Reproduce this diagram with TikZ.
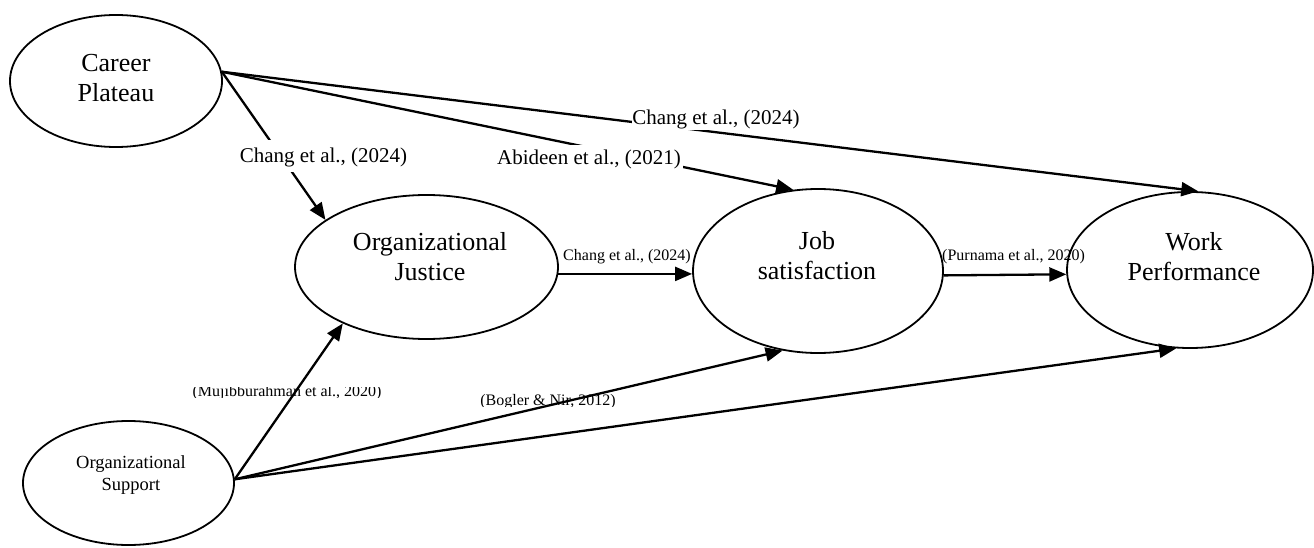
\documentclass[tikz,border=0pt]{standalone}
\usepackage{fontspec}
\setmainfont{Liberation Serif}
\usetikzlibrary{shapes.geometric,arrows.meta}
\begin{document}
\begin{tikzpicture}[x=1pt,y=-1pt,
  ell/.style={draw,ellipse,line width=1.8pt,inner sep=0pt},
  big/.style={font=\fontsize{26}{30}\selectfont,align=center,inner sep=0pt},
  mid/.style={font=\fontsize{18.5}{22}\selectfont,align=center,inner sep=0pt},
  arr/.style={line width=2.3pt,-{Triangle[length=17pt,width=14pt]}},
  tag/.style={font=\fontsize{21}{24}\selectfont,fill=white,anchor=base,inner sep=0pt},
  small/.style={font=\fontsize{16}{19}\selectfont,anchor=base,inner sep=0pt}]
\useasboundingbox (0,0) rectangle (1314,548);
% ellipses
\node[ell,minimum width=212pt,minimum height=132pt] (cp) at (116,81) {};
\node[ell,minimum width=263pt,minimum height=144pt] (oj) at (426.5,267) {};
\node[ell,minimum width=250pt,minimum height=164pt] (js) at (818,271) {};
\node[ell,minimum width=246pt,minimum height=156pt] (wp) at (1190,270) {};
\node[ell,minimum width=211pt,minimum height=124pt] (os) at (128.5,483) {};
% ellipse texts
\node[big] (cpt) at (116,81) {\strut Career\\\strut Plateau};
\node[big] (ojt) at (430,259) {\strut Organizational\\\strut Justice};
\node[big] (jst) at (817,258) {\strut Job\\\strut satisfaction};
\node[big] (wpt) at (1194,259) {\strut Work\\\strut Performance};
\node[mid] (ost) at (131,474.6) {\strut Organizational\\\strut Support};
% bottom labels (clipped, under the lines)
\begin{scope}
\clip (150,387.2) rectangle (430,397);
\node[small] (lmu) at (287,396) {(Mujibburahman et al., 2020)};
\end{scope}
\begin{scope}
\clip (450,380) rectangle (660,406);
\node[small] (lbo) at (548,405) {(Bogler \& Nir, 2012)};
\end{scope}
% connectors
\coordinate (cpo) at (cp.5);
\coordinate (oso) at (os.2);
\draw[arr] (cpo) -- (oj.155);
\draw[arr] (cpo) -- (js.107.6);
\draw[arr] (cpo) -- (wp.84.3);
\draw[arr] (oj.-3.5) -- (oj.-3.5 -| js.west);
\draw[arr] (js.-2.75) -- (wp.182);
\draw[arr] (oso) -- (oj.214.9);
\draw[arr] (oso) -- (js.246.1);
\draw[arr] (oso) -- (wp.260.9);
% top labels (white boxes over the lines)
\node[tag,text height=23pt,text depth=9pt] (lc1) at (323.5,163) {Chang et al., (2024)};
\node[tag,text height=20pt,text depth=5pt,inner xsep=2pt] (lab) at (589,165) {Abideen et al., (2021)};
\node[tag,text height=14pt,text depth=5pt] (lc2) at (716,125) {Chang et al., (2024)};
% small labels
\node[small] (lc3) at (627,260) {Chang et al., (2024)};
\node[small] (lpu) at (1013.5,260) {(Purnama et al., 2020)};
\end{tikzpicture}
\end{document}
